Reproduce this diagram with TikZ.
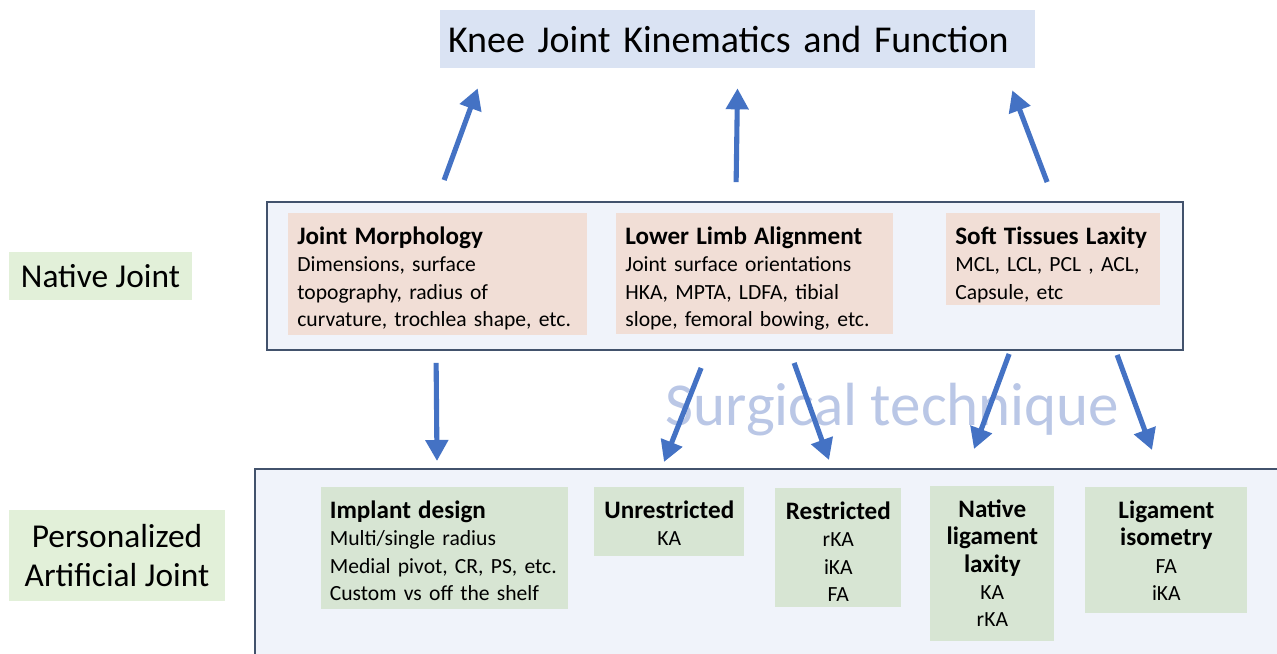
\documentclass[tikz,border=0pt]{standalone}
\usepackage{fontspec}
\setmainfont{Carlito}
\usetikzlibrary{positioning}
\usetikzlibrary{arrows.meta,calc}

\definecolor{arrowblue}{RGB}{68,114,196}
\definecolor{titlefill}{RGB}{218,227,243}
\definecolor{framefill}{RGB}{240,243,250}
\definecolor{frameline}{RGB}{66,82,108}
\definecolor{pinkfill}{RGB}{241,222,214}
\definecolor{greenfill}{RGB}{215,229,211}
\definecolor{labelfill}{RGB}{226,240,217}
\definecolor{ghosttext}{RGB}{186,199,230}

% heading line inside a box
\newcommand\hd[1]{{\fontsize{14.3}{15.6}\selectfont\bfseries #1}}

\tikzset{
  frame/.style={draw=frameline,line width=1.1pt,fill=framefill,inner sep=0pt},
  titlebox/.style={fill=titlefill,align=left,inner xsep=0.16cm,text width=11.58cm,minimum height=1.16cm,font=\fontsize{21.6}{26}\selectfont},
  sidelabel/.style={fill=labelfill,align=center,font=\fontsize{19}{22.3}\selectfont},
  pinkbox/.style={fill=pinkfill,anchor=north west,align=left,inner xsep=0.18cm,inner ysep=0.3cm,text height=0.32cm,font=\fontsize{12.3}{15.6}\selectfont},
  greenbox/.style={fill=greenfill,anchor=north west,align=center,inner xsep=0.1cm,inner ysep=0.3cm,text height=0.32cm,font=\fontsize{12.3}{15.6}\selectfont},
  arr/.style={draw=arrowblue,line width=2.9pt,-{Triangle[length=0.42cm,width=0.44cm]}}
}

\begin{document}
\begin{tikzpicture}[x=0.02cm,y=-0.02cm]
\useasboundingbox (0,0) rectangle (1277,653);
\clip (0,0) rectangle (1277,653);
\fill[white] (0,0) rectangle (1277,653);

\node[titlebox] (title) at (737.5,39) {Knee Joint Kinematics and Function};

%%%%%%%%%%%%%%%%%%%%%%%%%%%%%%%%% native joint
\node[sidelabel,minimum width=3.66cm,minimum height=0.96cm] (labnative) at (100.5,276) {Native Joint};
\node[frame,minimum width=18.32cm,minimum height=2.96cm] (native) at (725,276) {};
\node[pinkbox,text width=5.62cm,text depth=1.52cm] (morph) at (288,213)
  {\hd{Joint Morphology}\\Dimensions, surface\\topography, radius of\\curvature, trochlea shape, etc.};
\node[pinkbox,text width=5.18cm,text depth=1.5cm] (align) at (616,213)
  {\hd{Lower Limb Alignment}\\Joint surface orientations\\HKA, MPTA, LDFA, tibial\\slope, femoral bowing, etc.};
\node[pinkbox,text width=3.92cm,text depth=0.92cm] (soft) at (946,213)
  {\hd{Soft Tissues Laxity}\\MCL, LCL, PCL , ACL,\\Capsule, etc};

%%%%%%%%%%%%%%%%%%%%%%%%%%%%%%%%% artificial joint
\node[sidelabel,minimum width=4.32cm,minimum height=1.82cm] (labart) at (117,555.5) {Personalized\\Artificial Joint};
\node[frame,anchor=north west,minimum width=22cm,minimum height=5cm] (artificial) at (254,468) {};
\node[greenbox,align=left,inner xsep=0.17cm,text width=4.6cm,text depth=1.52cm] (implant) at (321,487)
  {\hd{Implant design}\\\mbox{Multi/single radius}\\\mbox{Medial pivot, CR, PS, etc.}\\\mbox{Custom vs off the shelf}};
\node[greenbox,text width=2.8cm,text depth=0.46cm] (unres) at (594,487) {\hd{Unrestricted}\\KA};
\node[greenbox,text width=2.32cm,text depth=1.46cm] (restr) at (775,488) {\hd{Restricted}\\rKA\\iKA\\FA};
\node[greenbox,text width=2.28cm,text depth=2.18cm] (natlig) at (930,486) {\hd{Native}\\\hd{ligament}\\\hd{laxity}\\KA\\rKA};
\node[greenbox,text width=3.04cm,text depth=1.6cm] (iso) at (1085,487) {\hd{Ligament}\\\hd{isometry}\\FA\\iKA};

\node[anchor=base,text=ghosttext,font=\fontsize{34.7}{40}\selectfont] (surg) at (892.5,425) {Surgical technique};

%%%%%%%%%%%%%%%%%%%%%%%%%%%%%%%%% arrows
\draw[arr] ($(native.north west)+(178,-21)$) -- ($(title.south west)+(38,20)$);
\draw[arr] ($(native.north west)+(470,-19)$) -- ($(title.south)+(0,20)$);
\draw[arr] ($(native.north west)+(781,-19)$) -- ($(title.south east)+(-23,22)$);
\draw[arr] ($(native.south west)+(170,12)$) -- ($(artificial.north west)+(183,-7)$);
\draw[arr] ($(native.south west)+(435,17)$) -- ($(artificial.north west)+(410,-6)$);
\draw[arr] ($(native.south west)+(528,12)$) -- ($(artificial.north west)+(575,-8)$);
\draw[arr] ($(native.south west)+(743,3)$) -- ($(artificial.north west)+(720,-19)$);
\draw[arr] ($(native.south west)+(851,4)$) -- ($(artificial.north west)+(898,-18)$);
\end{tikzpicture}
\end{document}
